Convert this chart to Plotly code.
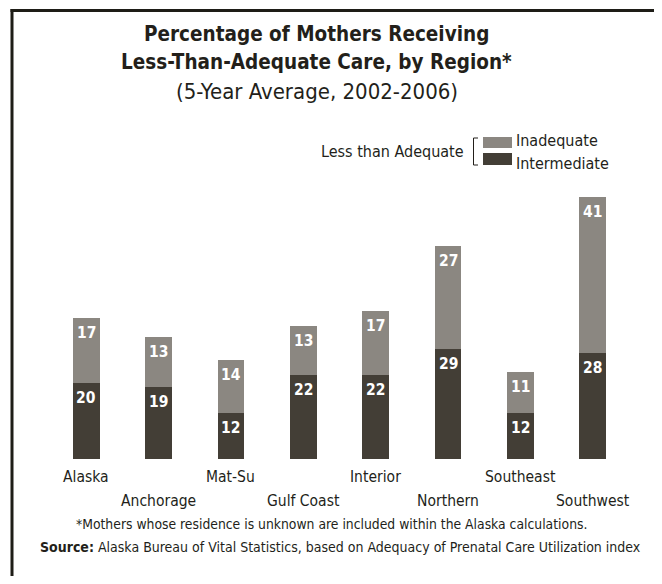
import plotly.graph_objects as go

regions = ["Alaska", "Anchorage", "Mat-Su", "Gulf Coast", "Interior", "Northern", "Southeast", "Southwest"]
intermediate = [20, 19, 12, 22, 22, 29, 12, 28]
inadequate = [17, 13, 14, 13, 17, 27, 11, 41]

FONT = "DejaVu Sans Condensed, Liberation Sans Narrow, sans-serif"
DARK = "#433e36"
GRAY = "#8b8781"
TXT = "#231f1a"

OFF = 8  # page body margin
W, H = 662 - OFF, 584 - 2 * OFF
# plot area in page pixels: x 50..629, y 180..459
L, R, T, B = 50 - OFF, 662 - 629, 180 - OFF, (H + OFF) - 459
PW = W - L - R
PH = H - T - B
YMAX = 73.4


def px(x):
    return (x - OFF - L) / PW


def py(y):
    return (H + OFF - B - y) / PH


fig = go.Figure()
fig.add_trace(go.Bar(x=list(range(len(regions))), y=intermediate, name="Intermediate",
                     marker=dict(color=DARK, line=dict(width=0)), width=0.37, hoverinfo="skip"))
fig.add_trace(go.Bar(x=list(range(len(regions))), y=inadequate, name="Inadequate",
                     marker=dict(color=GRAY, line=dict(width=0)), width=0.37, hoverinfo="skip"))

ann = []
for i, (a, b) in enumerate(zip(intermediate, inadequate)):
    ann.append(dict(x=i, y=a, xref="x", yref="y", text=f"<b>{a}</b>", showarrow=False,
                    yanchor="middle", yshift=-15, font=dict(family=FONT, size=15.5, color="white")))
    ann.append(dict(x=i, y=a + b, xref="x", yref="y", text=f"<b>{b}</b>", showarrow=False,
                    yanchor="middle", yshift=-15, font=dict(family=FONT, size=15.5, color="white")))
    ly = 477 if i % 2 == 0 else 501
    ann.append(dict(x=i, y=py(ly), xref="x", yref="paper", text=regions[i], showarrow=False,
                    yanchor="middle", font=dict(family=FONT, size=15.5, color=TXT)))

ann += [
    dict(x=px(316), y=py(34), xref="paper", yref="paper", showarrow=False, yanchor="middle",
         text="<b>Percentage of Mothers Receiving</b>", font=dict(family=FONT, size=20.5, color=TXT)),
    dict(x=px(316), y=py(62), xref="paper", yref="paper", showarrow=False, yanchor="middle",
         text="<b>Less-Than-Adequate Care, by Region*</b>", font=dict(family=FONT, size=20.5, color=TXT)),
    dict(x=px(317), y=py(91), xref="paper", yref="paper", showarrow=False, yanchor="middle",
         text="(5-Year Average, 2002-2006)", font=dict(family=FONT, size=22, color=TXT)),
    dict(x=px(466), y=py(152), xref="paper", yref="paper", showarrow=False, xanchor="right", yanchor="middle",
         text="Less than Adequate", font=dict(family=FONT, size=16, color=TXT)),
    dict(x=px(514), y=py(140), xref="paper", yref="paper", showarrow=False, xanchor="left", yanchor="middle",
         text="Inadequate", font=dict(family=FONT, size=16, color=TXT)),
    dict(x=px(514), y=py(163), xref="paper", yref="paper", showarrow=False, xanchor="left", yanchor="middle",
         text="Intermediate", font=dict(family=FONT, size=16, color=TXT)),
    dict(x=px(331), y=py(524), xref="paper", yref="paper", showarrow=False, yanchor="middle",
         text="*Mothers whose residence is unknown are included within the Alaska calculations.",
         font=dict(family=FONT, size=13.8, color=TXT)),
    dict(x=px(340), y=py(547), xref="paper", yref="paper", showarrow=False, yanchor="middle",
         text="<b>Source:</b> Alaska Bureau of Vital Statistics, based on Adequacy of Prenatal Care Utilization index",
         font=dict(family=FONT, size=14, color=TXT)),
]

shapes = [
    dict(type="rect", xref="paper", yref="paper", x0=px(10.5), x1=px(13.5), y0=py(9), y1=py(600),
         fillcolor="#1e1d17", line=dict(width=0), layer="above"),
    dict(type="rect", xref="paper", yref="paper", x0=px(10.5), x1=px(662), y0=py(9), y1=py(12),
         fillcolor="#1e1d17", line=dict(width=0), layer="above"),
    dict(type="path", xref="paper", yref="paper",
         path=f"M {px(478)} {py(138)} L {px(473.5)} {py(138)} L {px(473.5)} {py(165)} L {px(478)} {py(165)}",
         line=dict(color=TXT, width=1)),
    dict(type="rect", xref="paper", yref="paper", x0=px(483), x1=px(512), y0=py(137), y1=py(148),
         fillcolor=GRAY, line=dict(width=0)),
    dict(type="rect", xref="paper", yref="paper", x0=px(483), x1=px(512), y0=py(153), y1=py(165),
         fillcolor=DARK, line=dict(width=0)),
]

fig.update_layout(
    width=W, height=H, barmode="stack", showlegend=False,
    margin=dict(l=L, r=R, t=T, b=B, pad=0),
    paper_bgcolor="white", plot_bgcolor="white",
    xaxis=dict(range=[-0.5, len(regions) - 0.5], visible=False, fixedrange=True),
    yaxis=dict(range=[0, YMAX], visible=False, fixedrange=True),
    annotations=ann, shapes=shapes,
    font=dict(family=FONT, color=TXT),
)

fig.write_html("out.html", config={"displayModeBar": False})
